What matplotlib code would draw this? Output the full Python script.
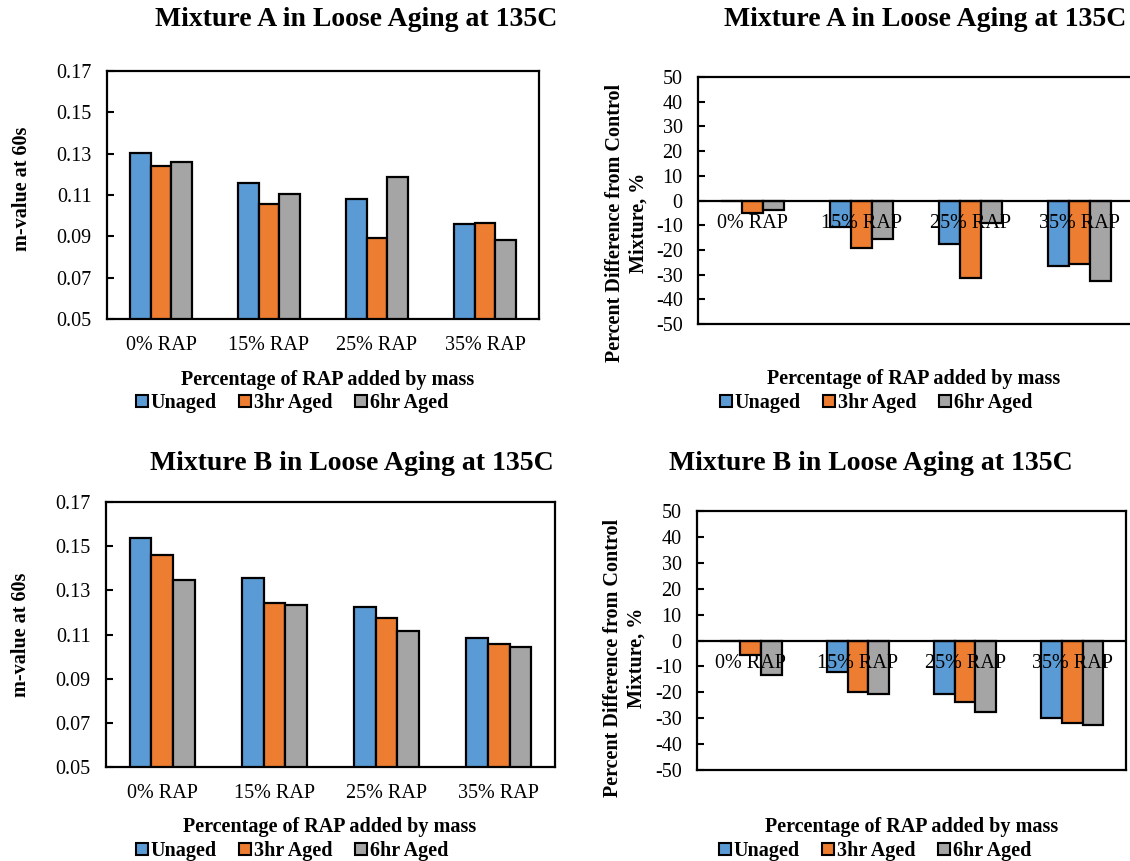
import numpy as np
import matplotlib.pyplot as plt
from matplotlib.patches import Patch

plt.rcParams['font.family'] = ['Liberation Serif', 'DejaVu Serif']
plt.rcParams['axes.unicode_minus'] = False

categories = ['0% RAP', '15% RAP', '25% RAP', '35% RAP']
series = ['Unaged', '3hr Aged', '6hr Aged']
colors = ['#5B9BD5', '#ED7D31', '#A5A5A5']

# m-value at 60 s
mix_a_unaged = [0.1305, 0.1160, 0.1079, 0.0958]
mix_a_3hr = [0.1242, 0.1057, 0.0894, 0.0963]
mix_a_6hr = [0.1258, 0.1103, 0.1189, 0.0882]

mix_b_unaged = [0.1536, 0.1357, 0.1226, 0.1084]
mix_b_3hr = [0.1460, 0.1243, 0.1176, 0.1059]
mix_b_6hr = [0.1347, 0.1232, 0.1118, 0.1043]

# percent difference from the control mixture (0% RAP, unaged)
diff_a_unaged = [0.0, -10.8, -17.8, -26.5]
diff_a_3hr = [-5.0, -19.2, -31.4, -25.9]
diff_a_6hr = [-3.8, -15.7, -9.1, -32.4]

diff_b_unaged = [0.0, -12.3, -20.8, -29.9]
diff_b_3hr = [-5.5, -19.7, -23.8, -31.8]
diff_b_6hr = [-13.2, -20.8, -27.7, -32.7]

W, H = 1130, 861
fig = plt.figure(figsize=(W / 100, H / 100), dpi=100)

TICK_FS = 14.5
LABEL_FS = 14.5
TITLE_FS = 20


def px_axes(x0, y0, x1, y1):
    return fig.add_axes([x0 / W, 1 - y1 / H, (x1 - x0) / W, (y1 - y0) / H])


def px_text(x, y, s, **kw):
    fig.text(x / W, 1 - y / H, s, ha='center', va='center', **kw)


def draw_bars(ax, groups):
    x = np.arange(len(categories))
    w = 1 / (3 + 2.19)
    for k, vals in enumerate(groups):
        ax.bar(x + (k - 1) * w, vals, width=w, color=colors[k],
               edgecolor='black', linewidth=1.6, zorder=2)
    ax.set_xlim(-0.5, len(categories) - 0.5)
    ax.set_xticks(x)
    for s in ax.spines.values():
        s.set_linewidth(1.6)
    ax.tick_params(axis='y', direction='in', length=5, width=1.5,
                   pad=11, labelsize=TICK_FS)
    ax.tick_params(axis='x', length=0)


def legend(cx, cy):
    handles = [Patch(facecolor=c, edgecolor='black', linewidth=1.5) for c in colors]
    fig.legend(handles, series, loc='center', bbox_to_anchor=(cx / W, 1 - cy / H),
               ncol=3, frameon=False, handlelength=0.6, handleheight=0.6,
               handletextpad=0.15, columnspacing=1.1, borderpad=0,
               prop={'weight': 'bold', 'size': LABEL_FS})


def mvalue_panel(box, groups, title, title_xy, ylab_xy, xlab_xy, leg_xy):
    ax = px_axes(*box)
    draw_bars(ax, groups)
    ax.set_ylim(0.05, 0.17)
    ax.set_yticks(np.arange(0.05, 0.171, 0.02))
    ax.set_yticklabels([f'{v:.2f}' for v in np.arange(0.05, 0.171, 0.02)])
    ax.set_xticklabels(categories, fontsize=TICK_FS)
    ax.tick_params(axis='x', pad=12)
    px_text(*title_xy, title, fontsize=TITLE_FS, weight='bold')
    px_text(*ylab_xy, 'm-value at 60s', fontsize=LABEL_FS, weight='bold', rotation=90)
    px_text(*xlab_xy, 'Percentage of RAP added by mass', fontsize=LABEL_FS, weight='bold')
    legend(*leg_xy)


def diff_panel(box, groups, title, title_xy, ylab_xy, xlab_xy, leg_xy):
    ax = px_axes(*box)
    draw_bars(ax, groups)
    ax.set_ylim(-50, 50)
    ax.set_yticks(np.arange(-50, 51, 10))
    ax.set_xticklabels([])
    ax.axhline(0, color='black', linewidth=1.6, zorder=3)
    # category labels sit just under the zero line
    for i, cat in enumerate(categories):
        ax.annotate(cat, (i, 0), xytext=(0, -10), textcoords='offset points',
                    ha='center', va='top', fontsize=TICK_FS, zorder=4)
    px_text(*title_xy, title, fontsize=TITLE_FS, weight='bold')
    px_text(*ylab_xy, 'Percent Difference from Control\nMixture, %',
            fontsize=LABEL_FS, weight='bold', rotation=90, linespacing=1.2)
    px_text(*xlab_xy, 'Percentage of RAP added by mass', fontsize=LABEL_FS, weight='bold')
    legend(*leg_xy)


mvalue_panel((107, 71, 539, 319), [mix_a_unaged, mix_a_3hr, mix_a_6hr],
             'Mixture A in Loose Aging at 135C', (356, 20), (22, 189), (328, 380), (292, 403))
diff_panel((698, 77, 1134, 324), [diff_a_unaged, diff_a_3hr, diff_a_6hr],
           'Mixture A in Loose Aging at 135C', (925, 20), (627, 223), (914, 379), (876, 403))
mvalue_panel((106, 502, 555, 767), [mix_b_unaged, mix_b_3hr, mix_b_6hr],
             'Mixture B in Loose Aging at 135C', (352, 463), (21, 635), (330, 827), (292, 851))
diff_panel((697, 511, 1126, 770), [diff_b_unaged, diff_b_3hr, diff_b_6hr],
           'Mixture B in Loose Aging at 135C', (871, 463), (625, 658), (912, 827), (875, 851))

fig.savefig('out.png', dpi=100, facecolor='white')
